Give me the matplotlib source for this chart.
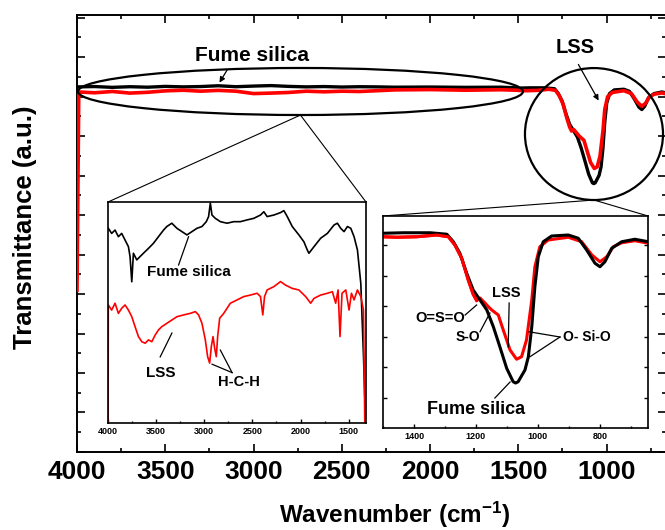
import matplotlib.pyplot as plt
from matplotlib.patches import Ellipse, ConnectionPatch
from matplotlib.ticker import MultipleLocator
import numpy as np

plt.rcParams['font.family'] = ['Liberation Sans', 'DejaVu Sans']
plt.rcParams['font.weight'] = 'bold'
plt.rcParams['mathtext.fontset'] = 'custom'
plt.rcParams['mathtext.rm'] = 'Liberation Sans:bold'
plt.rcParams['mathtext.it'] = 'Liberation Sans:bold'
plt.rcParams['mathtext.bf'] = 'Liberation Sans:bold'

# ---- main spectrum, 4000-1510 cm-1 (flat part) ----
w_wide = [4000, 3990, 3900, 3800, 3700, 3600, 3500, 3400, 3300, 3200, 3100, 3000,
          2900, 2800, 2700, 2600, 2500, 2400, 2300, 2200, 2000, 1800, 1600, 1510]
fume_wide = [100.6, 100.7, 100.9, 100.4, 100.8, 100.5, 101.0, 100.7, 100.9, 101.4, 100.8, 101.2,
             101.5, 101.0, 100.7, 100.9, 100.6, 100.8, 100.7, 100.5, 100.6, 100.4, 100.5, 100.1]
lss_wide = [-27, 97.5, 97.0, 97.8, 96.8, 97.3, 98.2, 98.6, 98.0, 98.5, 98.0, 96.5,
            96.8, 97.2, 98.0, 97.6, 98.0, 97.8, 98.3, 98.8, 99.0, 98.6, 98.9, 98.6]

# ---- 1500-645 cm-1 (Si-O region) ----
w_fume_fine = [1501, 1434, 1348, 1294, 1273, 1252, 1230, 1209, 1187, 1165, 1144, 1123, 1101,
               1080, 1072, 1064, 1042, 1031, 1020, 1010, 999, 983, 956, 902, 870, 843, 816,
               800, 784, 762, 730, 687, 644]
fume_fine = [99.9, 100.1, 100.1, 99.5, 96.5, 91.9, 83.9, 77.2, 73.2, 69.2, 62.5, 54.5, 45.9,
             40.5, 40.0, 40.5, 45.2, 50.5, 62.5, 78.5, 90.5, 96.5, 98.8, 99.2, 97.9, 93.2, 87.9,
             86.5, 88.5, 93.9, 96.5, 97.5, 96.5]
w_lss_fine = [1501, 1456, 1391, 1327, 1289, 1268, 1246, 1225, 1209, 1198, 1187, 1171, 1160,
              1149, 1128, 1112, 1090, 1069, 1053, 1037, 1020, 1010, 994, 967, 902, 859, 826,
              800, 778, 757, 730, 687, 644]
lss_fine = [98.5, 98.3, 98.5, 99.2, 98.5, 95.2, 89.9, 81.2, 75.5, 73.0, 74.0, 72.0, 70.5,
            69.2, 67.2, 61.2, 53.2, 49.5, 50.5, 57.2, 73.2, 86.5, 94.5, 97.2, 98.3, 96.5, 91.2,
            88.5, 90.5, 94.5, 96.1, 96.9, 95.9]

# ---- left inset, 4000-1320 cm-1, offset curves ----
w_ins_fume = [3997, 3962, 3927, 3892, 3858, 3823, 3788, 3771, 3753, 3736, 3701, 3667, 3632,
              3580, 3528, 3476, 3423, 3389, 3337, 3284, 3232, 3180, 3128, 3076, 3024, 2979,
              2955, 2937, 2920, 2885, 2833, 2763, 2694, 2625, 2555, 2486, 2416, 2381, 2347,
              2277, 2208, 2173, 2138, 2086, 2017, 1965, 1930, 1913, 1860, 1791, 1721, 1652,
              1617, 1583, 1548, 1513, 1478, 1444, 1409, 1374, 1346, 1322]
ins_fume = [88.1, 85.8, 87.3, 84.3, 85.8, 82.8, 79.8, 75.3, 63.9, 76.8, 73.8, 75.3, 76.8,
            79.0, 81.3, 84.3, 87.3, 88.9, 90.4, 88.1, 86.6, 85.1, 86.6, 88.1, 88.9, 91.1,
            93.4, 99.5, 94.1, 92.6, 91.1, 90.4, 91.1, 91.1, 91.9, 92.6, 94.1, 95.6, 93.4,
            94.1, 95.2, 96.1, 93.4, 88.9, 85.1, 82.0, 78.3, 76.8, 79.8, 83.6, 85.8, 89.6,
            90.4, 88.1, 86.6, 88.9, 88.1, 84.3, 78.3, 63.2, 30.0, -2]
w_ins_lss = [3999, 3997, 3962, 3927, 3892, 3858, 3823, 3788, 3753, 3719, 3684, 3649, 3614,
             3580, 3545, 3510, 3476, 3441, 3389, 3337, 3284, 3215, 3146, 3093, 3059, 3024,
             2989, 2965, 2944, 2927, 2909, 2892, 2875, 2861, 2840, 2798, 2729, 2659, 2590,
             2520, 2451, 2416, 2392, 2374, 2347, 2277, 2208, 2156, 2086, 2017, 1947, 1895,
             1860, 1791, 1721, 1669, 1635, 1610, 1590, 1569, 1530, 1496, 1471, 1444, 1409,
             1374, 1346, 1332]
ins_lss = [-2, 53.4, 51.1, 54.2, 49.6, 51.9, 53.4, 51.1, 48.1, 43.6, 39.1, 36.8, 36.1,
           37.6, 36.8, 39.8, 42.1, 43.6, 45.1, 46.6, 48.1, 48.9, 49.6, 50.4, 48.9, 45.1,
           37.6, 30.0, 27.1, 34.5, 39.1, 33.8, 30.0, 39.1, 47.4, 49.6, 54.2, 55.7, 57.2,
           57.9, 58.7, 57.2, 48.9, 57.2, 60.2, 61.7, 64.0, 62.4, 60.9, 60.2, 57.2, 54.2,
           56.4, 57.9, 58.7, 59.4, 54.2, 60.2, 39.1, 58.7, 60.2, 51.1, 58.7, 55.7, 60.2,
           57.2, 51.1, -2]

main_xticks = [4000, 3500, 3000, 2500, 2000, 1500, 1000]
left_xticks = [4000, 3500, 3000, 2500, 2000, 1500]
right_xticks = [1400, 1200, 1000, 800]

fig = plt.figure(figsize=(6.65, 5.3), dpi=100)

# main axes
ax = fig.add_axes([0.1158, 0.1472, 0.8857, 0.8245])
ax.plot(w_wide + w_fume_fine, fume_wide + fume_fine, color='black', lw=2.4, zorder=2)
ax.plot(w_wide + w_lss_fine, lss_wide + lss_fine, color='red', lw=2.6, zorder=3)
ax.set_xlim(4000, 663)
ax.set_ylim(-128.4, 145.8)
ax.set_xticks(main_xticks)
ax.xaxis.set_minor_locator(MultipleLocator(250))
ax.set_yticks(np.arange(-128.4, 146, 24.78))
ax.set_yticks(np.arange(-116.0, 146, 24.78), minor=True)
ax.tick_params(which='both', direction='in', top=True, right=True, labelleft=False, width=1.2)
ax.tick_params(which='major', length=6, labelsize=19, pad=6)
ax.tick_params(which='minor', length=3)
for s in ax.spines.values():
    s.set_linewidth(1.4)
ax.set_xlabel('Wavenumber (cm$^{-1}$)', fontsize=17.5, fontweight='bold')
ax.xaxis.label.set_va('baseline')
ax.xaxis.set_label_coords(0.54, -0.163)
ax.set_ylabel('Transmittance (a.u.)', fontsize=18.5, fontweight='bold')
ax.yaxis.label.set_va('center')
ax.yaxis.set_label_coords(-0.088, 0.515)

ax.add_patch(Ellipse((2734, 97.8), 2521, 29.5, fill=False, lw=1.6, ec='black', zorder=4))
ax.add_patch(Ellipse((1071, 71.1), 782, 82.8, fill=False, lw=1.6, ec='black', zorder=4))
ax.text(3008, 120.7, 'Fume silica', fontsize=15, ha='center', va='center')
ax.annotate('', xy=(3201, 101.9), xytext=(3139, 113.2),
            arrowprops=dict(arrowstyle='-|>', lw=0.9, color='black', mutation_scale=8))
ax.text(1178, 125.7, 'LSS', fontsize=14.5, ha='center', va='center')
ax.annotate('', xy=(1037, 90.6), xytext=(1167, 116.3),
            arrowprops=dict(arrowstyle='-|>', lw=0.9, color='black', mutation_scale=8))

# left inset (4000-1320)
ax1 = fig.add_axes([108 / 665, 107 / 530, 258 / 665, 221 / 530], zorder=5)
ax1.plot(w_ins_fume, ins_fume, color='black', lw=1.2)
ax1.plot(w_ins_lss, ins_lss, color='red', lw=1.2)
ax1.set_xlim(4000, 1320)
ax1.set_ylim(0, 100)
ax1.set_xticks(left_xticks)
ax1.xaxis.set_minor_locator(MultipleLocator(250))
ax1.set_yticks([])
ax1.tick_params(which='both', direction='in', width=1, labelsize=6.5, pad=3)
ax1.tick_params(which='major', length=3)
ax1.tick_params(which='minor', length=1.5)
for s in ax1.spines.values():
    s.set_linewidth(1.2)
ax1.text(3594, 68.3, 'Fume silica', fontsize=11, ha='left', va='center')
ax1.plot([3267, 3163], [71.5, 84.3], color='black', lw=0.9)
ax1.text(3448, 22.6, 'LSS', fontsize=11, ha='center', va='center')
ax1.plot([3458, 3336], [29.9, 40.7], color='black', lw=0.9)
ax1.text(2635, 18.6, 'H-C-H', fontsize=10.5, ha='center', va='center')
ax1.plot([2711, 2919], [22.8, 26.6], color='black', lw=0.9)
ax1.plot([2711, 2833], [22.8, 33.0], color='black', lw=0.9)

# right inset (1500-645)
ax2 = fig.add_axes([383 / 665, 102 / 530, 265 / 665, 212 / 530], zorder=5)
ax2.plot(w_lss_fine, lss_fine, color='red', lw=2.2)
ax2.plot(w_fume_fine, fume_fine, color='black', lw=2.2)
ax2.plot(w_lss_fine[:10], lss_fine[:10], color='red', lw=2.2)
ax2.set_xlim(1500, 645)
ax2.set_ylim(22, 106.8)
ax2.set_xticks(right_xticks)
ax2.xaxis.set_minor_locator(MultipleLocator(100))
ax2.set_yticks(np.arange(34, 106, 12.2))
ax2.tick_params(which='both', direction='in', right=True, labelleft=False, width=1,
                labelsize=6.5, pad=3)
ax2.tick_params(which='major', length=3)
ax2.tick_params(which='minor', length=1.5)
for s in ax2.spines.values():
    s.set_linewidth(1.2)
ax2.text(1235, 66.0, 'O=S=O', fontsize=10.5, ha='right', va='center')
ax2.plot([1235, 1198], [67.2, 71.2], color='black', lw=0.9)
ax2.text(1226, 58.4, 'S-O', fontsize=10, ha='center', va='center')
ax2.plot([1187, 1155], [60.5, 68.0], color='black', lw=0.9)
ax2.text(1103, 76.0, 'LSS', fontsize=10.5, ha='center', va='center')
ax2.plot([1093, 1096], [72.0, 54.4], color='black', lw=0.9)
ax2.text(1358, 29.2, 'Fume silica', fontsize=13, ha='left', va='center')
ax2.plot([1139, 1090], [34.0, 40.4], color='black', lw=0.9)
ax2.text(919, 58.4, 'O- Si-O', fontsize=10, ha='left', va='center')
ax2.plot([929, 1029], [58.4, 60.5], color='black', lw=0.9)
ax2.plot([929, 1026], [58.4, 50.5], color='black', lw=0.9)

# zoom connector lines
for xb in (0, 1):
    fig.add_artist(ConnectionPatch(xyA=(2734, 83.0), coordsA=ax.transData,
                                   xyB=(xb, 1), coordsB=ax1.transAxes, lw=0.8, color='black'))
    fig.add_artist(ConnectionPatch(xyA=(1071, 29.7), coordsA=ax.transData,
                                   xyB=(xb, 1), coordsB=ax2.transAxes, lw=0.8, color='black'))

fig.savefig('out.png', dpi=100)
